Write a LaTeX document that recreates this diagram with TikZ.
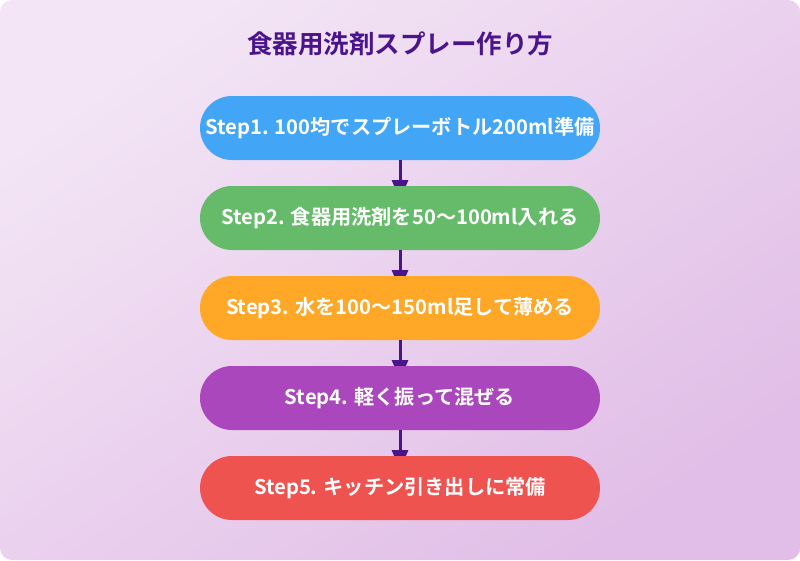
\documentclass[tikz,border=0pt]{standalone}
\usepackage{fontspec}
\setmainfont{Noto Sans CJK JP}[BoldFont={* Bold}]
\usetikzlibrary{arrows.meta,positioning}
\definecolor{bgA}{HTML}{F3E5F5}
\definecolor{bgB}{HTML}{E1BEE7}
\definecolor{ttl}{HTML}{4A148C}
\definecolor{cA}{HTML}{42A5F5}
\definecolor{cB}{HTML}{66BB6A}
\definecolor{cC}{HTML}{FFA726}
\definecolor{cD}{HTML}{AB47BC}
\definecolor{cE}{HTML}{EF5350}
\tikzset{
  stepbox/.style={rounded corners=32pt, minimum width=400pt, minimum height=64pt,
    inner sep=0pt, text=white, font=\bfseries\fontsize{20.2}{23}\selectfont, draw=none},
  flowarrow/.style={draw=ttl, line width=3pt, -{Triangle[width=16pt,length=20pt]}},
}
\begin{document}
\begin{tikzpicture}[x=1pt,y=-1pt]
\useasboundingbox (0,0) rectangle (800,560);
\shade[rounded corners=12pt, left color=bgA, right color=bgB, shading angle=35] (0,0) rectangle (800,560);
\node[text=ttl, font=\bfseries\fontsize{25.5}{29}\selectfont] (title) at (400,44) {食器用洗剤スプレー作り方};
\coordinate (t2) at (400,200);
\coordinate (t3) at (400,290);
\coordinate (t4) at (400,380);
\coordinate (t5) at (400,470);
\node[stepbox, fill=cA] (s1) at (400,128) {Step1. 100均でスプレーボトル200ml準備};
\draw[flowarrow] (s1.south) -- (t2);
\node[stepbox, fill=cB] (s2) at (400,218) {Step2. 食器用洗剤を50〜100ml入れる};
\draw[flowarrow] (s2.south) -- (t3);
\node[stepbox, fill=cC] (s3) at (400,308) {Step3. 水を100〜150ml足して薄める};
\draw[flowarrow] (s3.south) -- (t4);
\node[stepbox, fill=cD] (s4) at (400,398) {Step4. 軽く振って混ぜる};
\draw[flowarrow] (s4.south) -- (t5);
\node[stepbox, fill=cE] (s5) at (400,488) {Step5. キッチン引き出しに常備};
\end{tikzpicture}
\end{document}
